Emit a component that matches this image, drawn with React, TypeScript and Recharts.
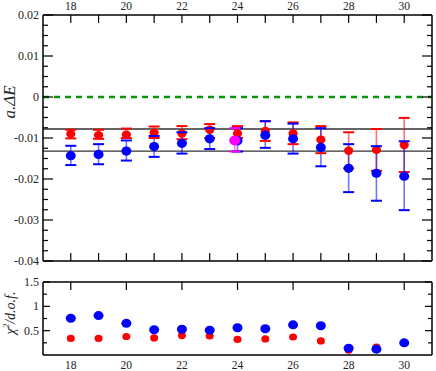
import React from 'react';
import { ComposedChart, Scatter, XAxis, YAxis, ErrorBar, ReferenceLine } from 'recharts';

// time slices
const timeSlices = [18, 19, 20, 21, 22, 23, 24, 25, 26, 27, 28, 29, 30];

// a.dE, red fits
const redEnergy = [-0.009, -0.0093, -0.0092, -0.0087, -0.0089, -0.008, -0.0089, -0.0083, -0.0089, -0.0104, -0.0131, -0.0129, -0.0117];
const redLow = [-0.0101, -0.0102, -0.01, -0.01, -0.0103, -0.01, -0.01, -0.0107, -0.0115, -0.0137, -0.0174, -0.018, -0.0183];
const redHigh = [-0.008, -0.008, -0.0077, -0.0072, -0.0071, -0.0066, -0.0071, -0.0059, -0.0062, -0.0071, -0.0086, -0.0078, -0.0051];

// a.dE, blue fits
const blueEnergy = [-0.0143, -0.014, -0.0132, -0.0121, -0.0113, -0.0102, -0.0107, -0.0093, -0.0102, -0.0123, -0.0174, -0.0186, -0.0193];
const blueLow = [-0.0166, -0.0164, -0.0155, -0.0146, -0.0138, -0.0127, -0.0133, -0.0124, -0.0138, -0.0169, -0.0232, -0.0253, -0.0276];
const blueHigh = [-0.0119, -0.0115, -0.0106, -0.0095, -0.0086, -0.0076, -0.0076, -0.0059, -0.0065, -0.0076, -0.0115, -0.012, -0.0108];

// chosen fit
const magentaT = [23.9];
const magentaEnergy = [-0.0106];
const magentaLow = [-0.0133];
const magentaHigh = [-0.0076];

const bandEdges = [-0.0078, -0.0132];

// chi^2 / d.o.f.
const redChi2 = [0.34, 0.34, 0.38, 0.35, 0.4, 0.39, 0.32, 0.33, 0.37, 0.29, 0.1, 0.16, 0.25];
const blueChi2 = [0.755, 0.81, 0.65, 0.52, 0.53, 0.51, 0.56, 0.54, 0.62, 0.6, 0.14, 0.12, 0.25];

const xTicks = [18, 19, 20, 21, 22, 23, 24, 25, 26, 27, 28, 29, 30];
const xMajor = [18, 20, 22, 24, 26, 28, 30];
const energyTicks = [-0.04, -0.0375, -0.035, -0.0325, -0.03, -0.0275, -0.025, -0.0225, -0.02, -0.0175, -0.015, -0.0125, -0.01, -0.0075, -0.005, -0.0025, 0, 0.0025, 0.005, 0.0075, 0.01, 0.0125, 0.015, 0.0175, 0.02];
const energyLabels = [-0.04, -0.03, -0.02, -0.01, 0, 0.01, 0.02];
const chiTicks = [0.25, 0.5, 0.75, 1, 1.25, 1.5];
const chiLabels = [0.5, 1, 1.5];

const FONT = '"Liberation Serif", serif';
const RED = '#ff0000';
const BLUE = '#0000ff';
const MAGENTA = '#ff00ff';

const points = (t: number[], e: number[], lo: number[], hi: number[]) =>
  t.map((x, i) => ({ t: x, e: e[i], err: [e[i] - lo[i], hi[i] - e[i]] }));
const capPoints = (t: number[], lo: number[], hi: number[]) =>
  t.flatMap((x, i) => [{ t: x, e: lo[i] }, { t: x, e: hi[i] }]);
const chiPoints = (t: number[], v: number[]) => t.map((x, i) => ({ t: x, e: v[i] }));

const near = (a: number, list: number[]) => list.some((b) => Math.abs(a - b) < 1e-9);
const fmt = (v: number) => String(Number(v.toFixed(4)));

const dot = (color: string, rx: number, ry: number) => (p: any) =>
  p.cx == null ? <g /> : <ellipse cx={p.cx} cy={p.cy} rx={rx} ry={ry} fill={color} />;
const cap = (color: string) => (p: any) =>
  p.cx == null ? <g /> : <line x1={p.cx - 5.5} x2={p.cx + 5.5} y1={p.cy} y2={p.cy} stroke={color} strokeWidth={2} />;

// tick renderers: tickSize 0 / tickMargin 0 so x,y sit on the frame line
const xTick = (dir: number, len: (v: number) => number, labels: number[] | null, dy: number) => (p: any) => {
  const v = p.payload.value;
  const l = len(v);
  return (
    <g>
      {l > 0 && <line x1={p.x} x2={p.x} y1={p.y} y2={p.y + dir * l} stroke="#000" strokeWidth={1.2} />}
      {labels && near(v, labels) && (
        <text x={p.x} y={p.y + dy} textAnchor="middle" fontSize={11.5} fontFamily={FONT} fill="#222">
          {fmt(v)}
        </text>
      )}
    </g>
  );
};
const yTick = (dir: number, len: (v: number) => number, labels: number[] | null) => (p: any) => {
  const v = p.payload.value;
  return (
    <g>
      <line x1={p.x} x2={p.x + dir * len(v)} y1={p.y} y2={p.y} stroke="#000" strokeWidth={1.2} />
      {labels && near(v, labels) && (
        <text x={p.x - 4} y={p.y + 4} textAnchor="end" fontSize={12} fontFamily={FONT} fill="#222">
          {fmt(v)}
        </text>
      )}
    </g>
  );
};

const energyLen = (v: number) => (near(v, energyLabels) ? 10 : 5);
const chiLen = (v: number) => (near(v, chiLabels) ? 7 : 4);

const axisCommon = { tickSize: 0, tickMargin: 0, tickLine: false, interval: 0 as const, stroke: '#000', strokeWidth: 1.5 };

function EnergyPanel() {
  return (
    <ComposedChart width={436} height={268} margin={{ top: 14, right: 3, bottom: 6, left: 42 }}>
      <XAxis xAxisId="bx" dataKey="t" type="number" orientation="bottom" domain={[17, 31]} ticks={xTicks} height={1}
        allowDataOverflow {...axisCommon} tick={xTick(-1, () => 8, null, 0)} />
      <XAxis xAxisId="tx" dataKey="t" type="number" orientation="top" domain={[17, 31]} ticks={xTicks} height={1}
        allowDataOverflow {...axisCommon} tick={xTick(1, () => 8, xMajor, -5.5)} />
      <YAxis yAxisId="ly" type="number" domain={[-0.04, 0.02]} ticks={energyTicks} width={1} allowDataOverflow
        {...axisCommon} tick={yTick(1, energyLen, energyLabels)}
        label={(props: any) => {
          const vb = props.viewBox;
          const cx = vb.x + vb.width - 28;
          const cy = 102;
          return (
            <text x={cx} y={cy} transform={`rotate(-90 ${cx} ${cy})`} textAnchor="middle" fontSize={17}
              fontFamily={FONT} fontStyle="italic" fill="#222">
              a.ΔE
            </text>
          );
        }} />
      <YAxis yAxisId="ry" orientation="right" type="number" domain={[-0.04, 0.02]} ticks={energyTicks} width={1}
        allowDataOverflow {...axisCommon} tick={yTick(-1, energyLen, null)} />

      <ReferenceLine xAxisId="bx" yAxisId="ly" y={0} stroke="#0a960a" strokeWidth={2.5} strokeDasharray="6 5" />
      {bandEdges.map((b) => (
        <ReferenceLine key={b} xAxisId="bx" yAxisId="ly" y={b} stroke="#333" strokeWidth={1.4} />
      ))}

      <Scatter xAxisId="bx" yAxisId="ly" data={points(timeSlices, redEnergy, redLow, redHigh)} dataKey="e"
        shape={dot(RED, 4.6, 4.2)} isAnimationActive={false}>
        <ErrorBar dataKey="err" direction="y" width={0} stroke="rgba(255,0,0,0.55)" strokeWidth={1.6} isAnimationActive={false} />
      </Scatter>
      <Scatter xAxisId="tx" yAxisId="ry" data={capPoints(timeSlices, redLow, redHigh)} dataKey="e"
        shape={cap(RED)} isAnimationActive={false} />

      <Scatter xAxisId="bx" yAxisId="ly" data={points(timeSlices, blueEnergy, blueLow, blueHigh)} dataKey="e"
        shape={dot(BLUE, 5, 4.6)} isAnimationActive={false}>
        <ErrorBar dataKey="err" direction="y" width={0} stroke="rgba(0,0,255,0.55)" strokeWidth={1.6} isAnimationActive={false} />
      </Scatter>
      <Scatter xAxisId="tx" yAxisId="ry" data={capPoints(timeSlices, blueLow, blueHigh)} dataKey="e"
        shape={cap(BLUE)} isAnimationActive={false} />

      <Scatter xAxisId="bx" yAxisId="ly" data={points(magentaT, magentaEnergy, magentaLow, magentaHigh)} dataKey="e"
        shape={dot(MAGENTA, 5.5, 5)} isAnimationActive={false}>
        <ErrorBar dataKey="err" direction="y" width={0} stroke="rgba(255,0,255,0.55)" strokeWidth={1.6} isAnimationActive={false} />
      </Scatter>
      <Scatter xAxisId="tx" yAxisId="ry" data={capPoints(magentaT, magentaLow, magentaHigh)} dataKey="e"
        shape={cap(MAGENTA)} isAnimationActive={false} />
    </ComposedChart>
  );
}

function ChiPanel() {
  return (
    <ComposedChart width={436} height={103} margin={{ top: 13, right: 3, bottom: 15, left: 42 }}>
      <XAxis xAxisId="bx" dataKey="t" type="number" orientation="bottom" domain={[17, 31]} ticks={xMajor} height={1}
        allowDataOverflow {...axisCommon} tick={xTick(-1, () => 0, xMajor, 14)} />
      <XAxis xAxisId="tx" dataKey="t" type="number" orientation="top" domain={[17, 31]} ticks={xMajor} height={1}
        allowDataOverflow {...axisCommon} tick={xTick(1, () => 8, null, 0)} />
      <YAxis yAxisId="ly" type="number" domain={[0, 1.5]} ticks={chiTicks} width={1} allowDataOverflow
        {...axisCommon} tick={yTick(1, chiLen, chiLabels)}
        label={(props: any) => {
          const vb = props.viewBox;
          const cx = vb.x + vb.width - 28;
          const cy = 45;
          return (
            <text x={cx} y={cy} transform={`rotate(-90 ${cx} ${cy})`} textAnchor="middle" fontSize={14}
              fontFamily={FONT} fontStyle="italic" fill="#222">
              χ<tspan fontSize={9} dy={-6}>2</tspan><tspan dy={6}>/d.o.f.</tspan>
            </text>
          );
        }} />
      <YAxis yAxisId="ry" orientation="right" type="number" domain={[0, 1.5]} ticks={chiTicks} width={1}
        allowDataOverflow {...axisCommon} tick={yTick(-1, chiLen, null)} />

      <Scatter xAxisId="bx" yAxisId="ly" data={chiPoints(timeSlices, redChi2)} dataKey="e"
        shape={dot(RED, 4, 3.6)} isAnimationActive={false} />
      <Scatter xAxisId="tx" yAxisId="ry" data={chiPoints(timeSlices, blueChi2)} dataKey="e"
        shape={dot(BLUE, 5, 4.5)} isAnimationActive={false} />
    </ComposedChart>
  );
}

export default function App() {
  return (
    <div style={{ position: 'absolute', left: 0, top: 0, width: 436, height: 371, background: '#fff' }}>
      <div style={{ position: 'absolute', left: 0, top: 0 }}>
        <EnergyPanel />
      </div>
      <div style={{ position: 'absolute', left: 0, top: 268 }}>
        <ChiPanel />
      </div>
    </div>
  );
}
